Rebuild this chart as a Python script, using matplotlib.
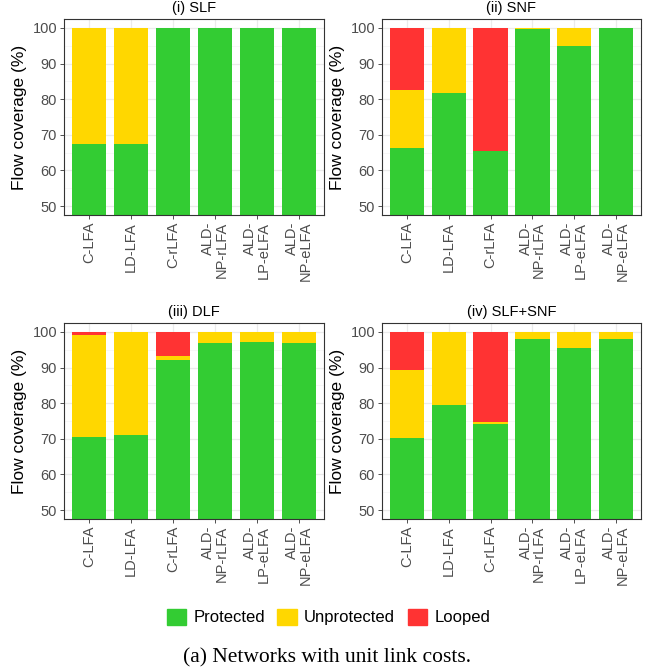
import numpy as np
import matplotlib
matplotlib.use("Agg")
import matplotlib.pyplot as plt
from matplotlib.patches import Patch
from matplotlib.ticker import MultipleLocator

plt.rcParams['font.family'] = ['Liberation Sans', 'DejaVu Sans']

schemes = ['C-LFA', 'LD-LFA', 'C-rLFA', 'ALD-\nNP-rLFA', 'ALD-\nLP-eLFA', 'ALD-\nNP-eLFA']
titles = ['(i) SLF', '(ii) SNF', '(iii) DLF', '(iv) SLF+SNF']

# flow coverage shares (%) per scenario, one value per scheme
protected = [
    [67.3, 67.3, 100.0, 100.0, 100.0, 100.0],
    [66.2, 81.6, 65.4, 99.8, 94.8, 100.0],
    [70.4, 71.0, 92.0, 97.0, 97.3, 97.0],
    [70.1, 79.4, 74.1, 98.1, 95.6, 98.1],
]
unprotected = [
    [32.7, 32.7, 0.0, 0.0, 0.0, 0.0],
    [16.5, 18.4, 0.0, 0.2, 5.2, 0.0],
    [28.6, 29.0, 1.1, 3.0, 2.7, 3.0],
    [19.1, 20.6, 0.7, 1.9, 4.4, 1.9],
]
looped = [
    [0.0, 0.0, 0.0, 0.0, 0.0, 0.0],
    [17.3, 0.0, 34.6, 0.0, 0.0, 0.0],
    [1.0, 0.0, 6.9, 0.0, 0.0, 0.0],
    [10.8, 0.0, 25.2, 0.0, 0.0, 0.0],
]

green = '#33CC33'
yellow = '#FFD700'
red = '#FF3333'

W, H = 654, 672
fig = plt.figure(figsize=(W / 100, H / 100), dpi=100)

# panel boxes in pixels: left, top, right, bottom
boxes = [
    (64, 19, 324, 215),
    (382, 19, 641, 215),
    (64, 323, 324, 519),
    (382, 323, 641, 519),
]

x = np.arange(len(schemes))
for k, (l, t, r, b) in enumerate(boxes):
    ax = fig.add_axes([l / W, 1 - b / H, (r - l) / W, (b - t) / H])
    p = np.array(protected[k])
    u = np.array(unprotected[k])
    lo = np.array(looped[k])
    ax.bar(x, p, width=0.82, color=green, zorder=2)
    ax.bar(x, u, bottom=p, width=0.82, color=yellow, zorder=2)
    ax.bar(x, lo, bottom=p + u, width=0.82, color=red, zorder=2)

    ax.set_xlim(-0.6, len(schemes) - 0.4)
    ax.set_ylim(47.5, 102.5)
    ax.yaxis.set_major_locator(MultipleLocator(10))
    ax.yaxis.set_minor_locator(MultipleLocator(5))
    ax.grid(which='major', color='#EBEBEB', lw=0.9, zorder=0)
    ax.grid(which='minor', axis='y', color='#F4F4F4', lw=0.5, zorder=0)
    ax.tick_params(which='minor', length=0)
    ax.set_axisbelow(True)

    ax.set_xticks(x)
    ax.set_xticklabels(schemes, rotation=90, ha='center', va='top',
                       multialignment='right', fontsize=10.5, color='#4D4D4D',
                       linespacing=0.95)
    ax.tick_params(axis='y', labelsize=10.5, labelcolor='#4D4D4D')
    ax.tick_params(which='major', length=3, width=0.6, color='#333333', pad=2)
    for s in ax.spines.values():
        s.set_color('#333333')
        s.set_linewidth(0.8)

    ax.set_ylabel('Flow coverage (%)', fontsize=12.5, labelpad=4)
    ax.set_title(titles[k], fontsize=10.5, pad=5)

handles = [Patch(color=green, label='Protected'),
           Patch(color=yellow, label='Unprotected'),
           Patch(color=red, label='Looped')]
fig.legend(handles=handles, loc='center', bbox_to_anchor=(0.502, 1 - 617 / H),
           ncol=3, frameon=False, fontsize=12, handlelength=1.15,
           handleheight=1.15, handletextpad=0.45, columnspacing=0.75)

fig.text(0.5, 1 - 658 / H, '(a) Networks with unit link costs.', ha='center',
         va='center', fontsize=15.5, family=['Liberation Serif', 'DejaVu Serif'])

fig.savefig('out.png', dpi=100)
